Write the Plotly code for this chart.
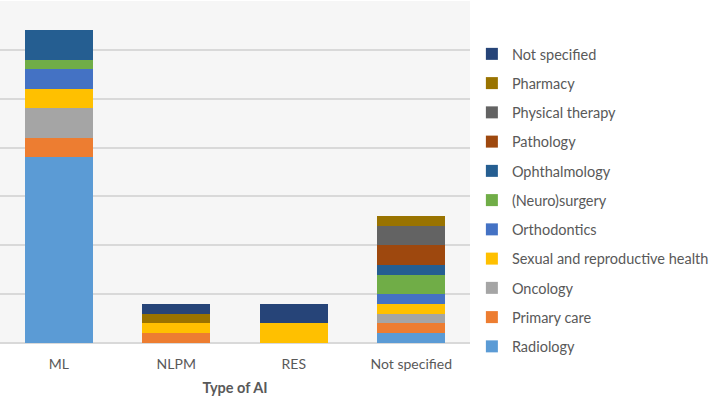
import plotly.graph_objects as go

categories = ["ML", "NLPM", "RES", "Not specified"]

series_names = [
    "Radiology", "Primary care", "Oncology", "Sexual and reproductive health",
    "Orthodontics", "(Neuro)surgery", "Ophthalmology", "Pathology",
    "Physical therapy", "Pharmacy", "Not specified",
]

radiology = [19, 0, 0, 1]
primary_care = [2, 1, 0, 1]
oncology = [3, 0, 0, 1]
sexual_health = [2, 1, 2, 1]
orthodontics = [2, 0, 0, 1]
neurosurgery = [1, 0, 0, 2]
ophthalmology = [3, 0, 0, 1]
pathology = [0, 0, 0, 2]
physical_therapy = [0, 0, 0, 2]
pharmacy = [0, 1, 0, 1]
not_specified = [0, 1, 2, 0]

series_values = [
    radiology, primary_care, oncology, sexual_health, orthodontics,
    neurosurgery, ophthalmology, pathology, physical_therapy, pharmacy,
    not_specified,
]

colors = [
    "#5B9BD5", "#ED7D31", "#A5A5A5", "#FFC000", "#4472C4", "#70AD47",
    "#255E91", "#9E480E", "#636363", "#997300", "#264478",
]

fig = go.Figure()
for i, (name, vals, col) in enumerate(zip(series_names, series_values, colors)):
    fig.add_trace(go.Bar(
        name=name, x=categories, y=vals, marker_color=col,
        marker_line_width=0, legendgroup=name, legendrank=1000 - i,
    ))

font = "Lato, 'Open Sans', sans-serif"
fig.update_layout(
    barmode="stack",
    bargap=0.42,
    width=709, height=396,
    margin=dict(l=0, r=239, t=1, b=53, autoexpand=False),
    paper_bgcolor="white",
    plot_bgcolor="#f6f6f6",
    font=dict(family=font, size=14, color="#595959"),
    legend=dict(
        traceorder="grouped",
        x=1.004, xanchor="left",
        y=0.892, yanchor="top",
        tracegroupgap=7.4,
        font=dict(size=14.5, color="#595959"),
        bgcolor="rgba(0,0,0,0)",
    ),
    xaxis=dict(
        title=dict(text="<b>Type of AI</b>", font=dict(size=14.5, color="#595959"), standoff=12),
        showline=False, ticks="", tickfont=dict(size=14, color="#595959"),
        ticklabelstandoff=11,
        automargin=False,
    ),
    yaxis=dict(
        range=[0, 35], dtick=5, showticklabels=False, automargin=False,
        gridcolor="#d9d9d9", gridwidth=1.5, zeroline=True,
        zerolinecolor="#d9d9d9", zerolinewidth=1.5,
    ),
)

fig.write_html("out.html", config={"displayModeBar": False},
               post_script="document.body.style.margin='0';")
